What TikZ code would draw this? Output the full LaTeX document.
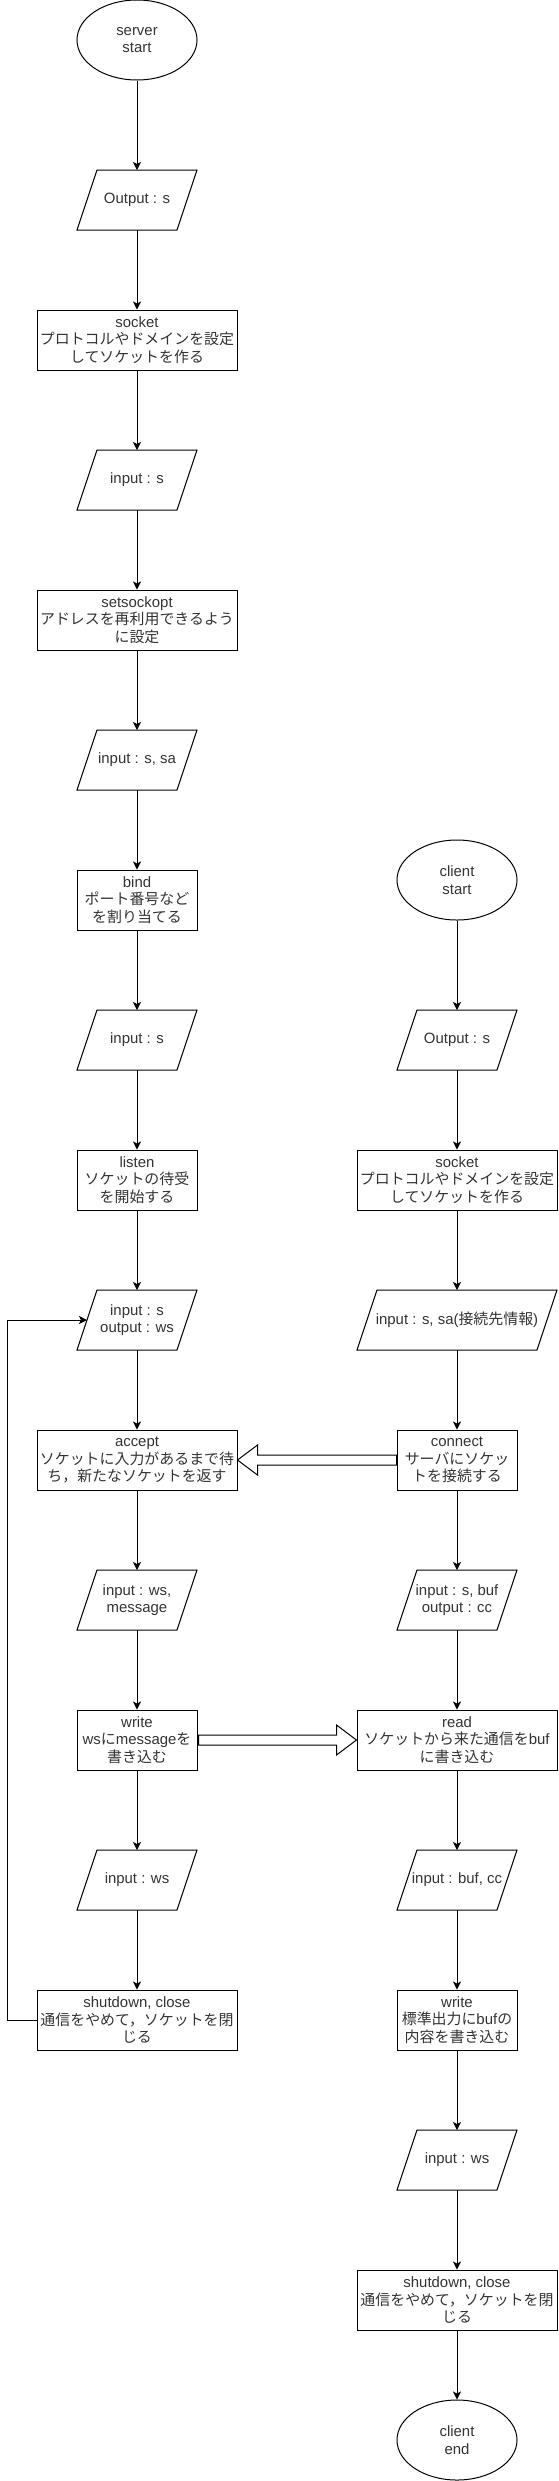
\documentclass[tikz,border=0pt]{standalone}
\usepackage{fontspec}
\setmainfont{Liberation Sans}
\newfontfamily\jpfont{Noto Sans CJK JP}
\newcommand\J[1]{{\jpfont #1}}
\usetikzlibrary{calc,arrows.meta,shapes.geometric}
\definecolor{txt}{HTML}{333333}
\begin{document}
\begin{tikzpicture}[x=0.75pt,y=-0.75pt, line width=0.75pt,
  every node/.style={font=\fontsize{11.2pt}{13.3pt}\selectfont, text=txt, align=center, inner sep=0pt},
  box/.style={draw, rectangle, minimum height=45pt},
  wide/.style={box, minimum width=150pt},
  narrow/.style={box, minimum width=90pt},
  term/.style={draw, ellipse, minimum width=90pt, minimum height=60pt},
  para/.style={rectangle, outer sep=0pt, minimum height=45pt, minimum width=90pt},
  parawide/.style={para, minimum width=150pt},
  arr/.style={-{Stealth[length=6pt,width=6pt,inset=1.5pt]}},
  hollow/.style={draw, fill=white, line join=miter}
]
\useasboundingbox (0,0) rectangle (558,2481);
% server column
\node[term]   (sstart) at (137,40)   {server\\start};
\node[para]   (s1)  at (137,200)  {Output : s};
\node[wide]   (s2)  at (137,340)  {socket\\\J{プロトコルやドメインを設定}\\\J{してソケットを作る}};
\node[para]   (s3)  at (137,480)  {input : s};
\node[wide]   (s4)  at (137,620)  {setsockopt\\\J{アドレスを再利用できるよう}\\\J{に設定}};
\node[para]   (s5)  at (137,760)  {input : s, sa};
\node[narrow] (s6)  at (137,900)  {bind\\\J{ポート番号など}\\\J{を割り当てる}};
\node[para]   (s7)  at (137,1040) {input : s};
\node[narrow] (s8)  at (137,1180) {listen\\\J{ソケットの待受}\\\J{を開始する}};
\node[para]   (s9)  at (137,1320) {input : s\\output : ws};
\node[wide]   (s10) at (137,1460) {accept\\\J{ソケットに入力があるまで待}\\\J{ち，新たなソケットを返す}};
\node[para]   (s11) at (137,1600) {input : ws,\\message};
\node[narrow] (s12) at (137,1740) {write\\ws\J{に}message\J{を}\\\J{書き込む}};
\node[para]   (s13) at (137,1880) {input : ws};
\node[wide]   (s14) at (137,2020) {shutdown, close\\\J{通信をやめて，ソケットを閉}\\\J{じる}};
% client column
\node[term]     (cstart) at (457,880) {client\\start};
\node[para]     (c1)  at (457,1040) {Output : s};
\node[wide]     (c2)  at (457,1180) {socket\\\J{プロトコルやドメインを設定}\\\J{してソケットを作る}};
\node[parawide] (c3)  at (457,1320) {input : s, sa(\J{接続先情報})};
\node[narrow]   (c4)  at (457,1460) {connect\\\J{サーバにソケッ}\\\J{トを接続する}};
\node[para]     (c5)  at (457,1600) {input : s, buf\\output : cc};
\node[wide]     (c6)  at (457,1740) {read\\\J{ソケットから来た通信を}buf\\\J{に書き込む}};
\node[para]     (c7)  at (457,1880) {input : buf, cc};
\node[narrow]   (c8)  at (457,2020) {write\\\J{標準出力に}buf\J{の}\\\J{内容を書き込む}};
\node[para]     (c9)  at (457,2160) {input : ws};
\node[wide]     (c10) at (457,2300) {shutdown, close\\\J{通信をやめて，ソケットを閉}\\\J{じる}};
\node[term]     (cend) at (457,2440) {client\\end};
% parallelogram outlines
\foreach \n in {s1,s3,s5,s7,s9,s11,s13,c1,c3,c5,c7,c9}
  \draw ($(\n.north west)+(20,0)$) -- (\n.north east) -- ($(\n.south east)+(-20,0)$) -- (\n.south west) -- cycle;
% flow arrows
\foreach \a/\b in {sstart/s1,s1/s2,s2/s3,s3/s4,s4/s5,s5/s6,s6/s7,s7/s8,s8/s9,s9/s10,s10/s11,s11/s12,s12/s13,s13/s14,
  cstart/c1,c1/c2,c2/c3,c3/c4,c4/c5,c5/c6,c6/c7,c7/c8,c8/c9,c9/c10,c10/cend}
  \draw[arr] (\a) -- (\b);
% loop back
\draw[arr] (s14.west) -- ++(-29,0) |- ($(s9.west)+(10,0)$);
% hollow arrows
\draw[hollow] ($(c4.west)+(0,-5)$) -- ($(s10.east)+(20,-5)$) -- ($(s10.east)+(20,-15)$) -- (s10.east)
  -- ($(s10.east)+(20,15)$) -- ($(s10.east)+(20,5)$) -- ($(c4.west)+(0,5)$) -- cycle;
\draw[hollow] ($(s12.east)+(1,-5)$) -- ($(c6.west)+(-20,-5)$) -- ($(c6.west)+(-20,-15)$) -- (c6.west)
  -- ($(c6.west)+(-20,15)$) -- ($(c6.west)+(-20,5)$) -- ($(s12.east)+(1,5)$) -- cycle;
\end{tikzpicture}
\end{document}
